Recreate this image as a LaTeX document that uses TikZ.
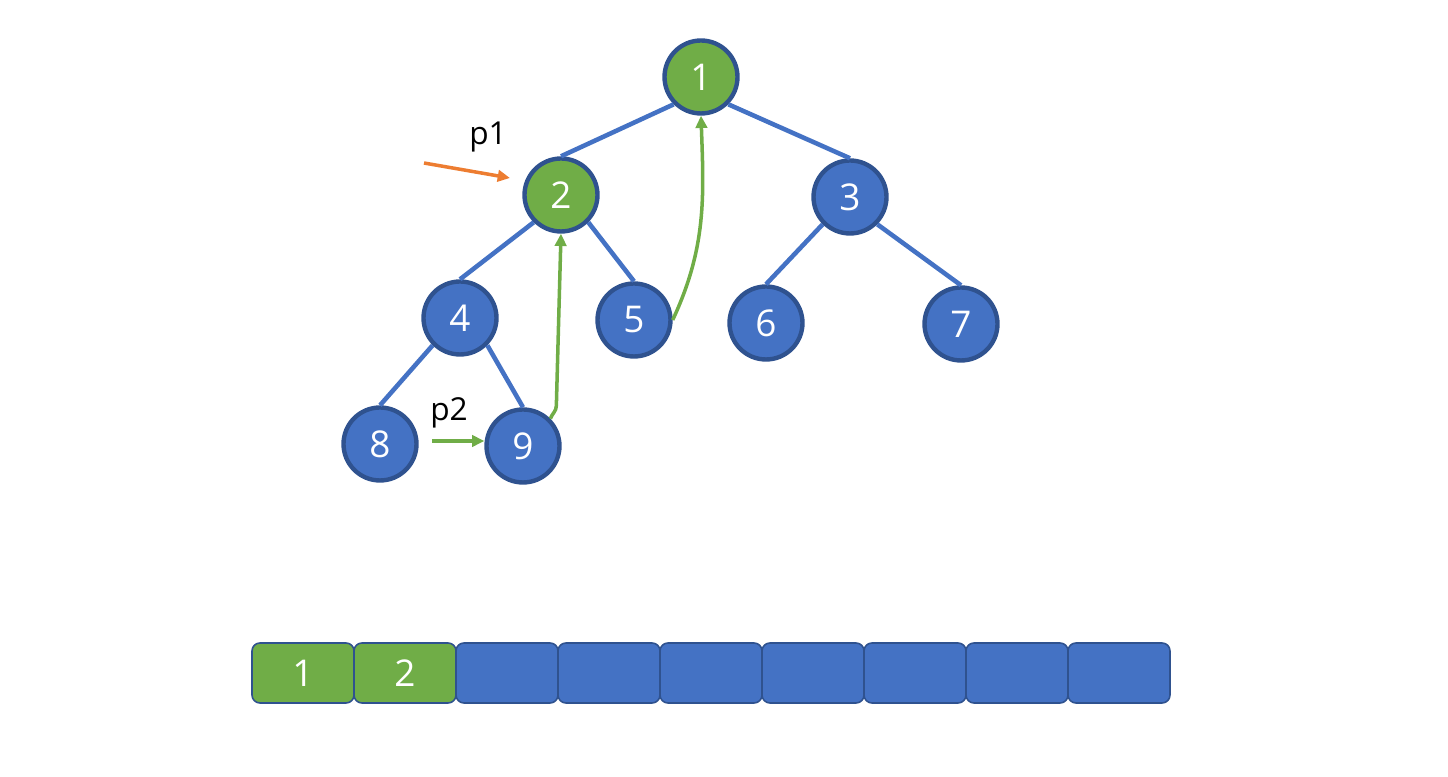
\documentclass[tikz,border=0pt]{standalone}
\usepackage{fontspec}
\setmainfont{Open Sans}
\usetikzlibrary{arrows.meta}
\definecolor{nodeblue}{HTML}{4472C4}
\definecolor{rimblue}{HTML}{2F528F}
\definecolor{leafgreen}{HTML}{70AD47}
\definecolor{ptrorange}{HTML}{ED7D31}
\tikzset{
  vertex/.style={circle, draw=rimblue, fill=nodeblue, line width=2.5pt, minimum size=1.46cm, inner sep=0pt, text=white, font=\fontsize{21}{21}\selectfont},
  visited/.style={vertex, fill=leafgreen},
  treeline/.style={nodeblue, line width=2.6pt},
  parr/.style={leafgreen, line width=2pt, -{Triangle[length=7pt,width=6.5pt]}},
  cell/.style={draw=rimblue, line width=0.9pt, rounded corners=4.5pt, minimum width=2.04cm, minimum height=1.2cm, inner sep=0pt, text=white, font=\fontsize{21}{21}\selectfont},
  plabel/.style={font=\fontsize{18}{18}\selectfont}
}
\begin{document}
\begin{tikzpicture}[x=0.02cm, y=0.02cm]
\useasboundingbox (0,0) rectangle (1448,777);
\node [visited] (n1) at (701,700) {1};
\node [visited] (n2) at (561,582) {2};
\node [vertex] (n3) at (850,580) {3};
\node [vertex] (n4) at (460,459) {4};
\node [vertex] (n5) at (634,457) {5};
\node [vertex] (n6) at (766,454) {6};
\node [vertex] (n7) at (961,453) {7};
\node [vertex] (n8) at (380,333) {8};
\node [vertex] (n9) at (523,331) {9};
\draw [treeline] (n1.south west) -- (n2.north);
\draw [treeline] (n1.south east) -- (n3.north);
\draw [treeline] (n2.south west) -- (n4.north);
\draw [treeline] (n2.south east) -- (n5.north);
\draw [treeline] (n3.south west) -- (n6.north);
\draw [treeline] (n3.south east) -- (n7.north);
\draw [treeline] (n4.south west) -- (n8.north);
\draw [treeline] (n4.south east) -- (n9.north);
\draw [parr] (n9.north east) to[out=70,in=-90] ++(6,13) -- (n2.south);
\draw [parr] (n5.east) to[out=65,in=-88] (n1.south);
\coordinate (p1s) at (424,614);
\coordinate (p1e) at (510,599);
\draw [ptrorange, line width=2pt, -{Triangle[length=7pt,width=6.5pt]}] (p1s) -- (p1e);
\node [plabel] (p1) at (488,640) {p1};
\coordinate (p2s) at (432,336);
\draw [parr] (p2s) -- (p2s -| n9.west);
\node [plabel] (p2) at (449,364) {p2};
\foreach \i/\lab/\col in {0/1/leafgreen,1/2/leafgreen,2//nodeblue,3//nodeblue,4//nodeblue,5//nodeblue,6//nodeblue,7//nodeblue,8//nodeblue}
  \node [cell, fill=\col] (c\i) at (303+102*\i,104) {\lab};
\end{tikzpicture}
\end{document}
